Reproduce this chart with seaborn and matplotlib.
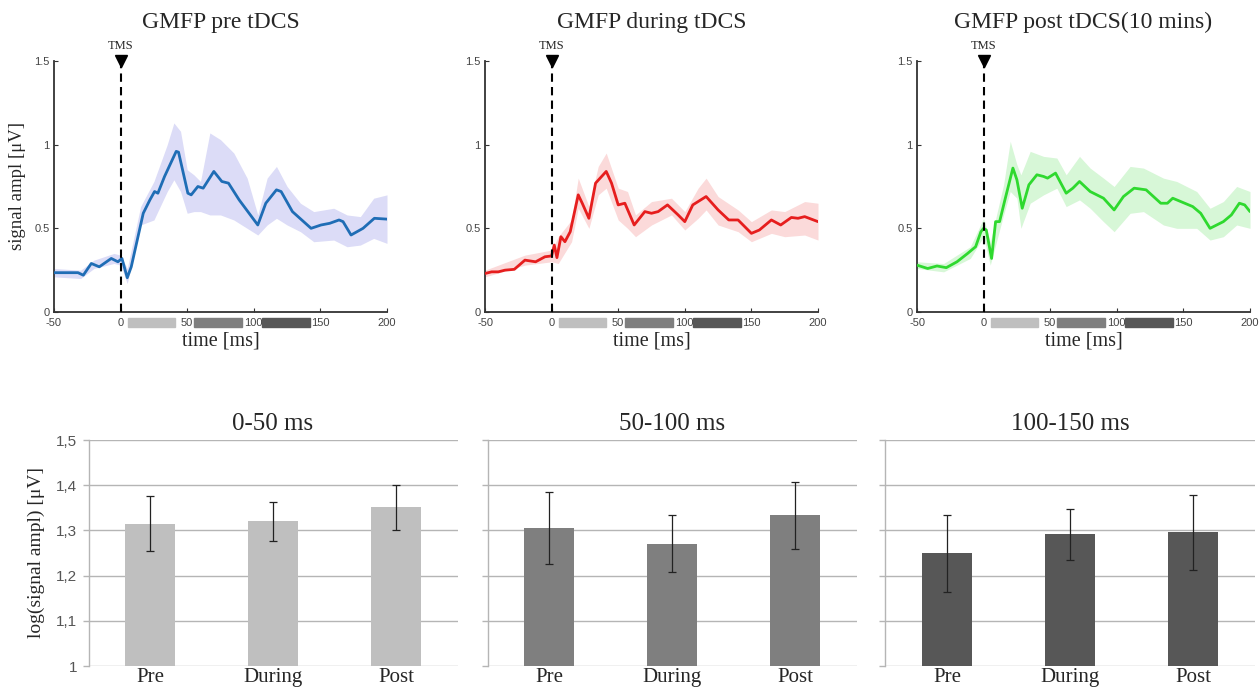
import numpy as np
import pandas as pd
import matplotlib
matplotlib.use("Agg")
import matplotlib.pyplot as plt
import matplotlib.transforms as mtransforms
from matplotlib.patches import Rectangle
import seaborn as sns

# ---------------- data: GMFP time courses ----------------
pre_t = [-50, -41, -32, -28, -22, -16, -7, -2, 1, 5, 8, 17, 22, 25.5, 28, 33, 41.75, 43.5,
         50.5, 53, 58, 62, 70, 76, 81, 89, 103, 109, 117, 120.5, 129, 143, 150.5, 157, 164,
         167, 173, 182, 190.5, 200]
pre_mean = [0.235, 0.235, 0.235, 0.22, 0.29, 0.27, 0.32, 0.30, 0.32, 0.205, 0.27, 0.59, 0.67,
            0.72, 0.71, 0.81, 0.96, 0.955, 0.71, 0.70, 0.75, 0.74, 0.84, 0.78, 0.77, 0.67,
            0.52, 0.65, 0.73, 0.72, 0.60, 0.50, 0.52, 0.53, 0.55, 0.54, 0.46, 0.50, 0.56, 0.555]
pre_band_t = [-50, -30, -20, -5, 0, 5, 15, 25, 35, 40, 45, 50, 55, 60, 67, 75, 85, 95, 103,
              110, 117, 125, 135, 145, 160, 170, 180, 190, 200]
pre_hi = [0.26, 0.25, 0.31, 0.35, 0.34, 0.26, 0.63, 0.78, 1.00, 1.13, 1.08, 0.85, 0.82, 0.78,
          1.07, 1.03, 0.95, 0.80, 0.58, 0.80, 0.87, 0.75, 0.65, 0.60, 0.62, 0.58, 0.57, 0.68, 0.70]
pre_lo = [0.21, 0.20, 0.26, 0.29, 0.28, 0.17, 0.52, 0.55, 0.72, 0.79, 0.72, 0.59, 0.60, 0.60,
          0.58, 0.58, 0.55, 0.50, 0.46, 0.52, 0.56, 0.52, 0.48, 0.42, 0.43, 0.39, 0.40, 0.44, 0.41]

dur_t = [-50, -45, -40, -35, -28, -20, -12, -5, 0, 2, 4, 7, 10, 14, 20, 23, 28, 33, 41, 45,
         50, 55, 62, 70, 75, 80, 87, 95, 100, 106, 116, 125, 133, 140, 150, 156, 165, 172,
         180, 185, 190, 200]
dur_mean = [0.23, 0.24, 0.24, 0.25, 0.255, 0.31, 0.30, 0.33, 0.335, 0.40, 0.325, 0.45, 0.42,
            0.48, 0.70, 0.65, 0.56, 0.77, 0.84, 0.77, 0.64, 0.65, 0.52, 0.60, 0.59, 0.60, 0.64,
            0.58, 0.54, 0.64, 0.69, 0.61, 0.55, 0.55, 0.47, 0.49, 0.55, 0.52, 0.565, 0.56,
            0.57, 0.54]
dur_band_t = [-50, -20, 0, 5, 15, 20, 28, 35, 41, 50, 57, 63, 75, 90, 100, 110, 116, 125,
              140, 150, 165, 175, 190, 200]
dur_hi = [0.25, 0.34, 0.37, 0.45, 0.55, 0.80, 0.63, 0.87, 0.95, 0.74, 0.72, 0.58, 0.66, 0.68,
          0.60, 0.74, 0.80, 0.69, 0.61, 0.54, 0.61, 0.60, 0.66, 0.65]
dur_lo = [0.21, 0.28, 0.30, 0.29, 0.42, 0.62, 0.50, 0.70, 0.74, 0.55, 0.50, 0.45, 0.52, 0.58,
          0.49, 0.56, 0.61, 0.52, 0.48, 0.42, 0.47, 0.45, 0.46, 0.43]

post_t = [-50, -42, -35, -28, -20, -12, -6, -2, 0, 2, 6, 9, 12, 16, 22, 25, 29, 34, 40, 45,
          48, 54, 62, 67, 72, 80, 90, 98, 105, 113, 122, 133, 138, 142, 157, 163, 170, 180,
          186, 192, 196, 200]
post_mean = [0.28, 0.26, 0.275, 0.265, 0.30, 0.35, 0.39, 0.48, 0.50, 0.49, 0.32, 0.54, 0.54,
             0.67, 0.86, 0.79, 0.62, 0.76, 0.82, 0.81, 0.80, 0.83, 0.71, 0.74, 0.78, 0.72,
             0.68, 0.61, 0.69, 0.74, 0.73, 0.65, 0.65, 0.68, 0.63, 0.59, 0.50, 0.54, 0.58,
             0.65, 0.64, 0.60]
post_band_t = [-50, -30, -10, 0, 5, 15, 20, 25, 28, 35, 45, 55, 62, 72, 80, 90, 98, 110, 120,
               135, 145, 160, 170, 180, 190, 200]
post_hi = [0.30, 0.29, 0.39, 0.56, 0.42, 0.76, 1.02, 0.88, 0.82, 0.96, 0.93, 0.92, 0.82, 0.93,
           0.86, 0.80, 0.75, 0.87, 0.86, 0.80, 0.78, 0.72, 0.62, 0.66, 0.75, 0.72]
post_lo = [0.26, 0.24, 0.32, 0.45, 0.28, 0.58, 0.72, 0.68, 0.50, 0.65, 0.70, 0.74, 0.63, 0.67,
           0.62, 0.54, 0.48, 0.59, 0.60, 0.52, 0.50, 0.50, 0.43, 0.45, 0.52, 0.50]

top_titles = ["GMFP pre tDCS", "GMFP during tDCS", "GMFP post tDCS(10 mins)"]
x_ticks = [-50, 0, 50, 100, 150, 200]
y_ticks = [0, 0.5, 1, 1.5]
y_tick_labels = ["0", "0.5", "1", "1.5"]

# ---------------- data: bar charts ----------------
conditions = ["Pre", "During", "Post"]
windows = ["0-50 ms", "50-100 ms", "100-150 ms"]
means_0_50 = [1.315, 1.320, 1.351]
se_0_50 = [0.061, 0.043, 0.050]
means_50_100 = [1.305, 1.271, 1.333]
se_50_100 = [0.080, 0.062, 0.074]
means_100_150 = [1.249, 1.291, 1.296]
se_100_150 = [0.086, 0.056, 0.083]
bar_ticks = [1.0, 1.1, 1.2, 1.3, 1.4, 1.5]
bar_tick_labels = ["1", "1,1", "1,2", "1,3", "1,4", "1,5"]

# ---------------- styling ----------------
sns.set_style("white")
plt.rcParams["font.family"] = ["Liberation Sans", "DejaVu Sans"]
SERIF = ["Liberation Serif", "DejaVu Serif"]

line_colors = ["#1f6db5", "#e61e1e", "#2fd92f"]
band_colors = ["#dcdcf7", "#fbdada", "#d7f7d7"]
window_colors = ["#bfbfbf", "#7f7f7f", "#575757"]

W, H = 1260, 688
fig = plt.figure(figsize=(W / 100, H / 100), dpi=100)


def fbox(left, top, right, bottom):
    return [left / W, 1 - bottom / H, (right - left) / W, (bottom - top) / H]


series = [
    (pre_t, pre_mean, pre_band_t, pre_lo, pre_hi),
    (dur_t, dur_mean, dur_band_t, dur_lo, dur_hi),
    (post_t, post_mean, post_band_t, post_lo, post_hi),
]
top_lefts = [54, 485, 917]

for i, (t, m, bt, lo, hi) in enumerate(series):
    left = top_lefts[i]
    ax = fig.add_axes(fbox(left, 61, left + 333, 312))
    ax.fill_between(bt, lo, hi, color=band_colors[i], linewidth=0, zorder=1)
    df = pd.DataFrame({"time": t, "amp": m})
    sns.lineplot(data=df, x="time", y="amp", ax=ax, color=line_colors[i], linewidth=2.0,
                 zorder=3)
    ax.set_xlim(-50, 200)
    ax.set_ylim(0, 1.5)
    ax.set_xticks(x_ticks)
    ax.set_xticklabels([str(v) for v in x_ticks])
    ax.set_yticks(y_ticks)
    ax.set_yticklabels(y_tick_labels)
    ax.tick_params(axis="both", direction="in", length=3, width=0.8, labelsize=8,
                   labelcolor="#444444", color="#333333", bottom=True, left=True)
    ax.tick_params(axis="x", pad=4.5)
    ax.tick_params(axis="y", pad=3)
    for s in ["top", "right"]:
        ax.spines[s].set_visible(False)
    for s in ["left", "bottom"]:
        ax.spines[s].set_color("#333333")
        ax.spines[s].set_linewidth(1.3)
    ax.set_xlabel("time [ms]", family=SERIF, fontsize=14.5, labelpad=2)
    if i == 0:
        ax.set_ylabel("signal ampl [μV]", family=SERIF, fontsize=13.5, labelpad=6)
    else:
        ax.set_ylabel("")
    ax.set_title(top_titles[i], family=SERIF, fontsize=17, pad=24)
    # TMS marker
    ax.axvline(0, ymin=0, ymax=1, color="black", linestyle=(0, (4, 2.5)), linewidth=1.5,
               zorder=4)
    ax.plot([0], [1.5], marker="v", color="black", markersize=8, clip_on=False, zorder=5)
    ax.text(0, 1.555, "TMS", family=SERIF, fontsize=9, ha="center", va="bottom")
    # analysis window indicators
    trans = mtransforms.blended_transform_factory(ax.transData, ax.transAxes)
    for (a, b), c in zip([(5.5, 41), (55, 91), (106.5, 142)], window_colors):
        ax.add_patch(Rectangle((a, -0.061), b - a, 0.036, transform=trans, color=c,
                               clip_on=False, zorder=5))

# ---------------- bar charts ----------------
bar_data = [(means_0_50, se_0_50), (means_50_100, se_50_100), (means_100_150, se_100_150)]
bar_lefts = [88.5, 487.5, 885.5]
for i, (mv, sv) in enumerate(bar_data):
    left = bar_lefts[i]
    ax = fig.add_axes(fbox(left, 440, left + 369, 666))
    df = pd.DataFrame({"cond": conditions, "val": mv})
    sns.barplot(data=df, x="cond", y="val", ax=ax, color=window_colors[i], width=0.4,
                errorbar=None, linewidth=0, saturation=1, zorder=2)
    ax.errorbar(range(3), mv, yerr=sv, fmt="none", ecolor="#222222", elinewidth=0.9,
                capsize=3, capthick=0.9, zorder=4)
    ax.set_ylim(1.0, 1.5)
    ax.set_xlim(-0.5, 2.5)
    ax.set_yticks(bar_ticks)
    ax.yaxis.grid(True, color="#b5b5b5", linewidth=1.0, zorder=0)
    ax.set_axisbelow(True)
    for s in ["top", "right", "bottom"]:
        ax.spines[s].set_visible(False)
    ax.spines["left"].set_color("#b5b5b5")
    ax.spines["left"].set_linewidth(1.0)
    ax.tick_params(axis="y", direction="out", length=4, width=1.0, color="#b5b5b5",
                   left=True, labelsize=11, labelcolor="#555555", pad=4)
    ax.tick_params(axis="x", length=0, pad=1.5)
    for lab in ax.get_xticklabels():
        lab.set_family(SERIF)
        lab.set_fontsize(15)
    if i == 0:
        ax.set_yticklabels(bar_tick_labels)
        ax.set_ylabel("log(signal ampl) [μV]", family=SERIF, fontsize=14, labelpad=8)
    else:
        ax.set_yticklabels([])
        ax.set_ylabel("")
    ax.set_xlabel("")
    ax.set_title(windows[i], family=SERIF, fontsize=18, pad=7)

fig.savefig("out.png", dpi=100)
